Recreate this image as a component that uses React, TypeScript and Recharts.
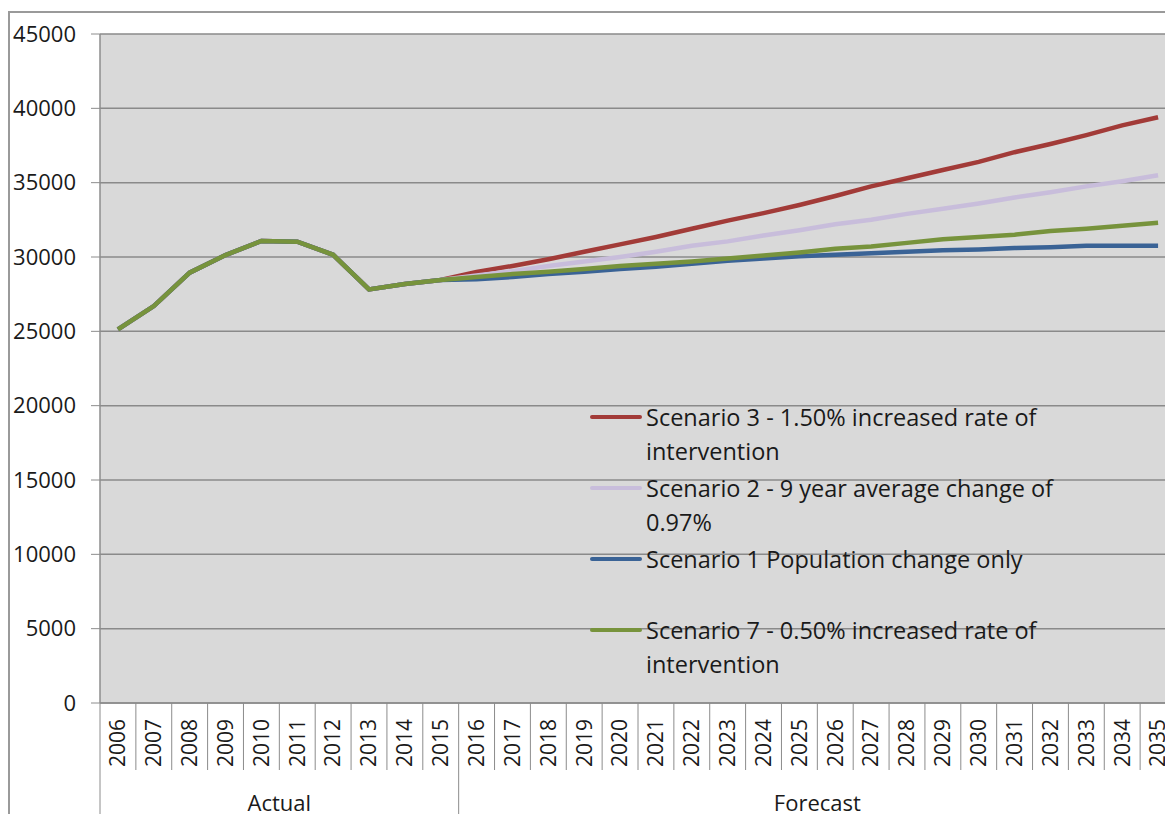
import React from "react";
import { LineChart, Line, XAxis, YAxis, CartesianGrid, Legend } from "recharts";

const years = [
  "2006", "2007", "2008", "2009", "2010", "2011", "2012", "2013", "2014", "2015",
  "2016", "2017", "2018", "2019", "2020", "2021", "2022", "2023", "2024", "2025",
  "2026", "2027", "2028", "2029", "2030", "2031", "2032", "2033", "2034", "2035",
];

const actual = [25130, 26700, 28950, 30130, 31080, 31030, 30150, 27820, 28180, 28450];

const scenario3 = [29000, 29400, 29850, 30350, 30850, 31350, 31900, 32450, 32950, 33500,
  34100, 34750, 35300, 35850, 36400, 37050, 37600, 38200, 38850, 39400];
const scenario2 = [28750, 29050, 29400, 29700, 30000, 30350, 30750, 31050, 31450, 31800,
  32200, 32500, 32900, 33250, 33600, 34000, 34350, 34750, 35100, 35500];
const scenario1 = [28500, 28650, 28850, 29000, 29200, 29350, 29550, 29750, 29900, 30050,
  30150, 30250, 30350, 30450, 30500, 30600, 30650, 30750, 30750, 30750];
const scenario7 = [28650, 28850, 29000, 29200, 29400, 29550, 29700, 29900, 30100, 30300,
  30550, 30700, 30950, 31200, 31350, 31500, 31750, 31900, 32100, 32300];

const yTicks = [0, 5000, 10000, 15000, 20000, 25000, 30000, 35000, 40000, 45000];

const groups = [
  { label: "Actual", start: "2006", count: 10 },
  { label: "Forecast", start: "2016", count: 20 },
];

const seriesNames = {
  s3: "Scenario 3 - 1.50% increased rate of intervention",
  s2: "Scenario 2 - 9 year average change of 0.97%",
  s1: "Scenario 1 Population change only",
  s7: "Scenario 7 - 0.50% increased rate of intervention",
};

const legendLines: Record<string, string[]> = {
  s3: ["Scenario 3 - 1.50% increased rate of", "intervention"],
  s2: ["Scenario 2 - 9 year average change of", "0.97%"],
  s1: ["Scenario 1 Population change only"],
  s7: ["Scenario 7 - 0.50% increased rate of", "intervention"],
};

const colors = { s3: "#A23B38", s2: "#C8BDDB", s1: "#3A6396", s7: "#77933C" };
const legendOrder = ["s3", "s2", "s1", "s7"];

const data = years.map((year, i) => {
  const row: any = { year };
  if (i < actual.length) {
    row.s3 = actual[i];
    row.s2 = actual[i];
    row.s1 = actual[i];
    row.s7 = actual[i];
  } else {
    const j = i - actual.length;
    row.s3 = scenario3[j];
    row.s2 = scenario2[j];
    row.s1 = scenario1[j];
    row.s7 = scenario7[j];
  }
  return row;
});

const W = 1190;
const H = 840;
const M = { top: 34, right: 14, left: 0, bottom: 0 };
const YW = 100;
const BAND = (W - M.right - M.left - YW) / years.length;
const AXIS_Y = 703;
const FONT = "'Open Sans', 'DejaVu Sans', sans-serif";

const YearTick = (props: any) => {
  const { x, y, payload, index } = props;
  const half = BAND / 2;
  const group = groups.find((g) => g.start === payload.value);
  const isLast = index === years.length - 1;
  return (
    <g>
      <line x1={x - half} x2={x - half} y1={y} y2={group ? H : y + 67} stroke="#8c8c8c" strokeWidth={1} />
      {isLast && <line x1={x + half} x2={x + half} y1={y} y2={H} stroke="#8c8c8c" strokeWidth={1} />}
      <text
        x={x}
        y={y + 16}
        transform={`rotate(-90, ${x}, ${y + 16})`}
        textAnchor="end"
        dy="0.35em"
        fontSize={21}
        fontFamily={FONT}
        fill="#1a1a1a"
      >
        {payload.value}
      </text>
      {group && (
        <text
          x={x - half + (group.count * BAND) / 2}
          y={y + 108}
          textAnchor="middle"
          fontSize={22}
          fontFamily={FONT}
          fill="#1a1a1a"
        >
          {group.label}
        </text>
      )}
    </g>
  );
};

const LegendContent = () => (
  <div style={{ fontFamily: FONT, fontSize: 23.5, color: "#1a1a1a" }}>
    {legendOrder.map((k) => (
      <div key={k} style={{ position: "relative", height: 71 }}>
        <svg width={52} height={34} style={{ position: "absolute", left: 0, top: 0 }}>
          <line x1={2} x2={50} y1={17} y2={17} stroke={(colors as any)[k]} strokeWidth={4} strokeLinecap="round" />
        </svg>
        <div style={{ position: "absolute", left: 56, top: 0, lineHeight: "34px", whiteSpace: "nowrap" }}>
          {legendLines[k].map((t, i) => (
            <div key={i}>{t}</div>
          ))}
        </div>
      </div>
    ))}
  </div>
);

export default function App() {
  return (
    <div
      style={{
        position: "absolute",
        left: 0,
        top: 0,
        width: 1165,
        height: 814,
        overflow: "hidden",
        background: "#ffffff",
      }}
    >
      <div
        style={{
          position: "absolute",
          left: 8,
          top: 11,
          width: 1300,
          height: 1000,
          border: "2px solid #9a9a9a",
        }}
      />
      <div style={{ position: "absolute", left: 0, top: 0 }}>
        <LineChart width={W} height={H} data={data} margin={M}>
          <CartesianGrid vertical={false} stroke="#8a8a8a" strokeWidth={1.5} fill="#D9D9D9" />
          <XAxis
            dataKey="year"
            scale="band"
            interval={0}
            tick={<YearTick />}
            tickLine={false}
            tickSize={0}
            tickMargin={0}
            axisLine={{ stroke: "#8c8c8c", strokeWidth: 1.5 }}
            height={H - AXIS_Y - M.bottom}
          />
          <YAxis
            domain={[0, 45000]}
            ticks={yTicks}
            interval={0}
            width={YW}
            tickSize={9}
            tickMargin={15}
            tickLine={{ stroke: "#8c8c8c" }}
            axisLine={{ stroke: "#8c8c8c", strokeWidth: 1.5 }}
            tick={{ fontSize: 22, fontFamily: FONT, fill: "#1a1a1a" }}
          />
          <Line type="linear" dataKey="s3" name={seriesNames.s3} stroke={colors.s3} strokeWidth={4.5} dot={false} isAnimationActive={false} />
          <Line type="linear" dataKey="s2" name={seriesNames.s2} stroke={colors.s2} strokeWidth={4.5} dot={false} isAnimationActive={false} />
          <Line type="linear" dataKey="s1" name={seriesNames.s1} stroke={colors.s1} strokeWidth={4.5} dot={false} isAnimationActive={false} />
          <Line type="linear" dataKey="s7" name={seriesNames.s7} stroke={colors.s7} strokeWidth={4.5} dot={false} isAnimationActive={false} />
          <Legend
            layout="vertical"
            align="center"
            verticalAlign="middle"
            content={<LegendContent />}
            wrapperStyle={{ position: "absolute", left: 590, top: 400, width: 560, bottom: "auto", right: "auto" }}
          />
        </LineChart>
      </div>
    </div>
  );
}
